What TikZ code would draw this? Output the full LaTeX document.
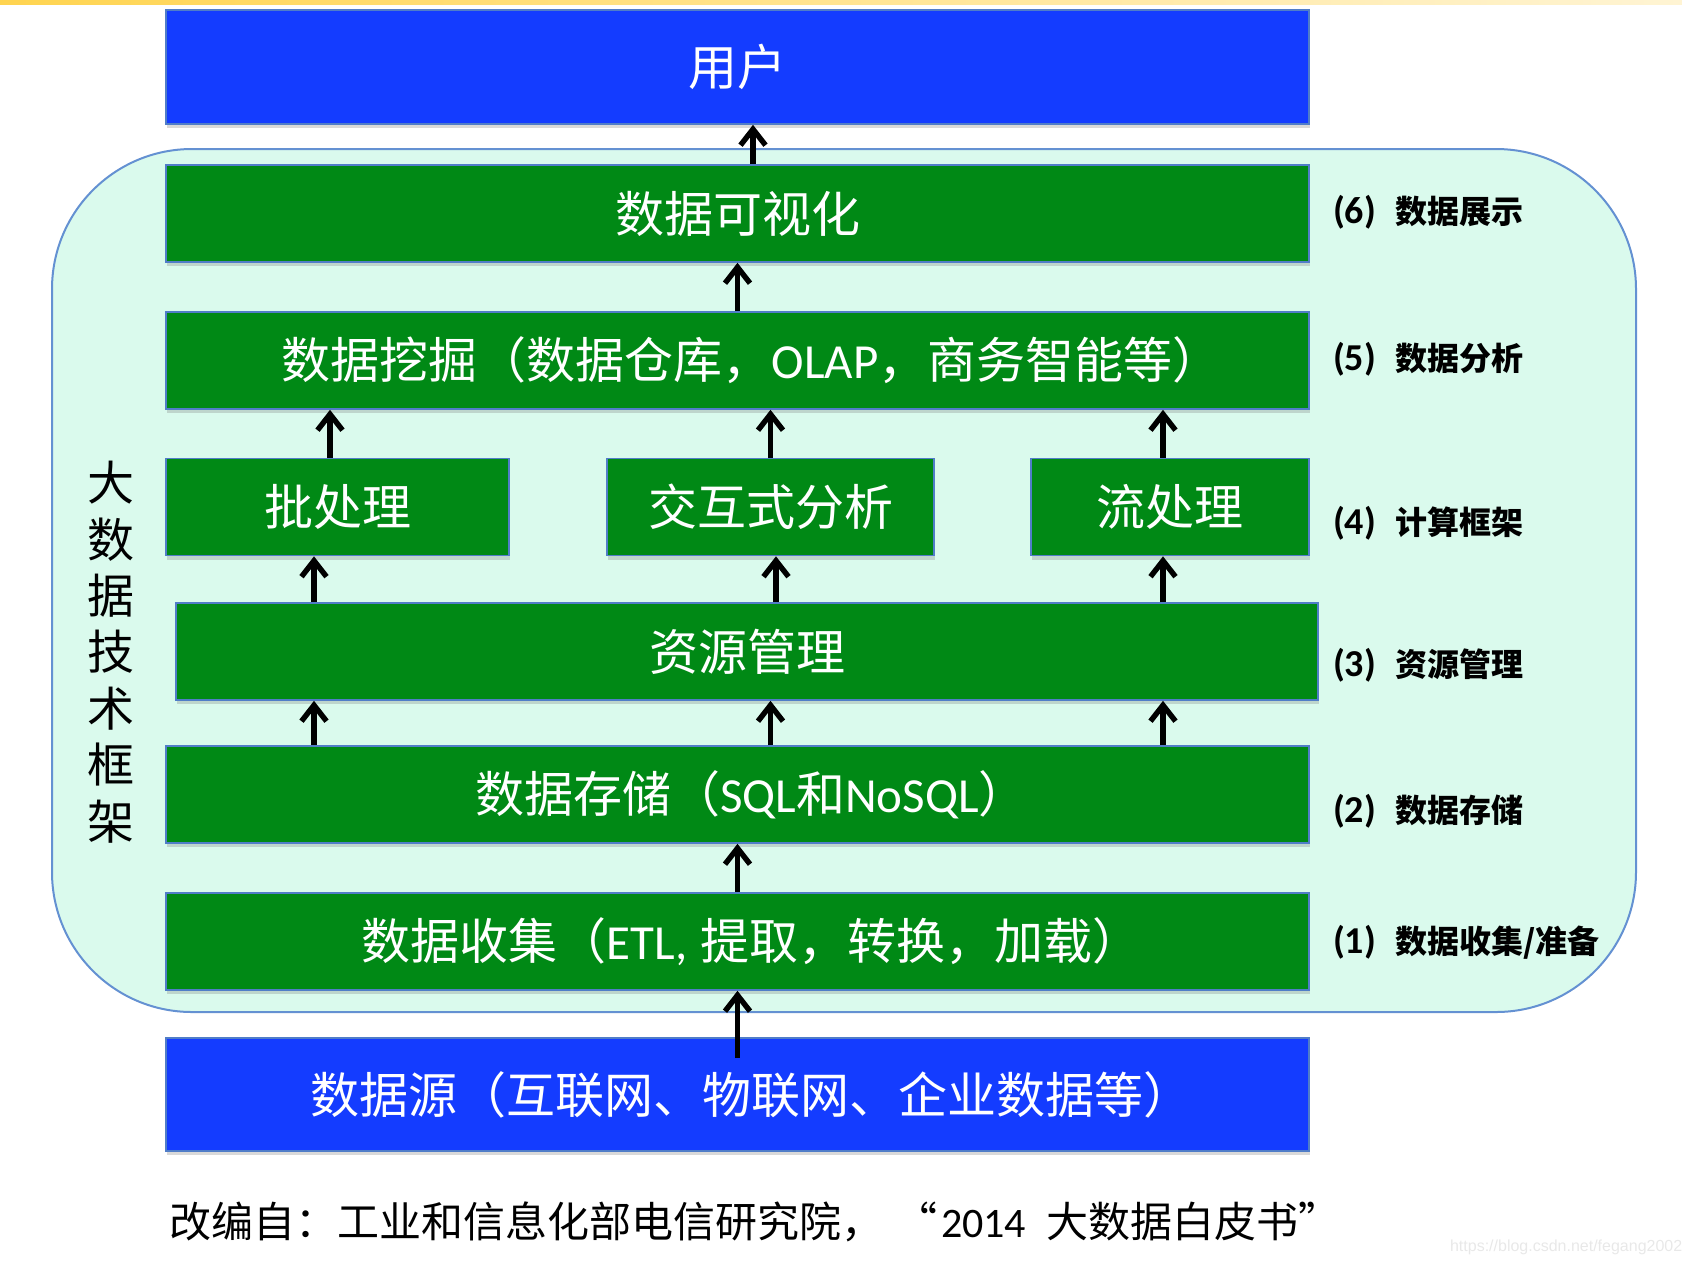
\documentclass[tikz,border=0pt]{standalone}
\usepackage{fontspec}
\setmainfont{Noto Sans CJK SC}
\newfontfamily\latinfont{Carlito}
\newfontfamily\markfont{Liberation Sans}
\usetikzlibrary{arrows.meta,shadows,positioning,calc}
\definecolor{colorEnd}{RGB}{20,60,255}
\definecolor{colorLayer}{RGB}{0,137,21}
\definecolor{colorMint}{RGB}{218,250,237}
\definecolor{colorRim}{RGB}{100,145,210}
\definecolor{colorEdge}{RGB}{80,125,200}
\definecolor{colorGold}{RGB}{255,212,80}
\newcommand{\ltn}[1]{{\latinfont #1}}
\newcommand{\num}[1]{{\latinfont\fontsize{19}{20}\selectfont #1}}
\tikzset{
   every path/.style={>={Straight Barb[length=8pt,width=12.5pt]}},
   layer/.style={rectangle,draw=colorEdge,line width=0.8pt,fill=colorLayer,text=white,
      font=\fontsize{24.5}{28}\selectfont,minimum width=571.5pt,minimum height=48.5pt,inner sep=0pt,
      drop shadow={shadow xshift=0.5pt,shadow yshift=-2pt,opacity=0.3}},
   endbox/.style={layer,fill=colorEnd,minimum height=57pt},
   up/.style={->,line width=2.7pt,black},
   tag/.style={anchor=west,font=\bfseries\fontsize{16}{18}\selectfont},
}

\begin{document}
\begin{tikzpicture}[x=0.5pt,y=-0.5pt]
      \useasboundingbox (0,0) rectangle (1682,1266);
      \fill[left color=colorGold,right color=colorGold!25] (0,0) rectangle (1682,4);

      % framework background
      \draw[draw=colorRim,fill=colorMint,line width=1pt,rounded corners=70pt]
        (52,149) rectangle (1636,1012);

      \node (user) [endbox] at (737.5,67) {用户};
      \node (vis) [layer] at (737.5,213.5) {数据可视化};
      \node (mining) [layer] at (737.5,360.5)
        {\hspace{14pt}数据挖掘（数据仓库，\ltn{OLAP}，商务智能等）};

      \node (batch) [layer,minimum width=171.5pt] at (337.5,507) {批处理};
      \node (inter) [layer,minimum width=163.5pt] at (770.5,507) {交互式分析};
      \node (stream) [layer,minimum width=139pt] at (1170,507) {流处理};

      \node (res) [layer,minimum width=571pt] at (747,651.5) {资源管理};
      \node (store) [layer] at (737.5,794.5)
        {\hspace{14pt}数据存储（\ltn{SQL}和\ltn{NoSQL}）};
      \node (collect) [layer] at (737.5,941.5)
        {\hspace{14pt}数据收集（\ltn{ETL,}\hspace{6pt}提取，转换，加载）};
      \node (src) [endbox,minimum height=56.5pt] at (737.5,1094.5)
        {\hspace{14pt}数据源（互联网、物联网、企业数据等）};

      % level tags
      \node (tag6) [tag] at (1326,212) {\num{(6)}\hspace{0.6em}数据展示};
      \node (tag5) [tag] at (1326,359) {\num{(5)}\hspace{0.6em}数据分析};
      \node (tag4) [tag] at (1326,523) {\num{(4)}\hspace{0.6em}计算框架};
      \node (tag3) [tag] at (1326,665) {\num{(3)}\hspace{0.6em}资源管理};
      \node (tag2) [tag] at (1326,811) {\num{(2)}\hspace{0.6em}数据存储};
      \node (tag1) [tag] at (1326,942) {\num{(1)}\hspace{0.6em}数据收集/准备};

      \node (side) [align=center,font=\fontsize{23.5}{28.2}\selectfont] at (111,652)
        {大\\数\\据\\技\\术\\框\\架};

      \node (note) [anchor=west,font=\fontsize{21}{24}\selectfont] at (162,1222)
        {改编自：工业和信息化部电信研究院，\hspace{6pt}“\hspace{2pt}\ltn{2014}\hspace{10pt}大数据白皮书”};
      \node (mark) [anchor=west,text=black!9,font=\markfont\fontsize{8}{9}\selectfont] at (1443,1247)
        {https://blog.csdn.net/fegang2002};

      % arrows between layers
      \draw[up] ([yshift=-10.5pt]src.north) -- (collect.south);
      \draw[up] (collect.north) -- (store.south);
      \draw[up] ([xshift=-11.75pt]batch.south |- store.north) -- ([xshift=-11.75pt]batch.south |- res.south);
      \draw[up] (inter.south |- store.north) -- (inter.south |- res.south);
      \draw[up] ([xshift=-3.5pt]stream.south |- store.north) -- ([xshift=-3.5pt]stream.south |- res.south);
      \draw[up] ([xshift=-11.75pt]batch.south |- res.north) -- ([xshift=-11.75pt]batch.south);
      \draw[up] ([xshift=2.75pt]inter.south |- res.north) -- ([xshift=2.75pt]inter.south);
      \draw[up] ([xshift=-3.5pt]stream.south |- res.north) -- ([xshift=-3.5pt]stream.south);
      \draw[up] ([xshift=-3.75pt]batch.north) -- ([xshift=-3.75pt]batch.north |- mining.south);
      \draw[up] (inter.north) -- (inter.north |- mining.south);
      \draw[up] ([xshift=-3.5pt]stream.north) -- ([xshift=-3.5pt]stream.north |- mining.south);
      \draw[up] (mining.north) -- (vis.south);
      \draw[up] ([xshift=7.75pt]vis.north) -- ([xshift=7.75pt]user.south);
\end{tikzpicture}
\end{document}
